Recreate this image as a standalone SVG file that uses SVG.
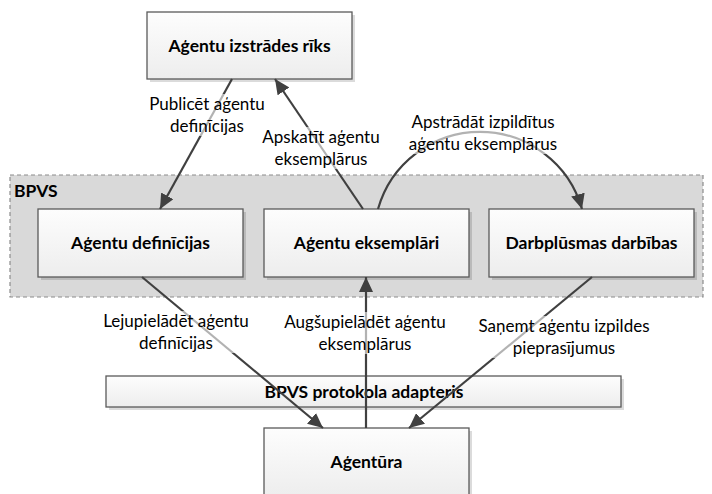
<svg xmlns="http://www.w3.org/2000/svg" width="712" height="494" viewBox="0 0 712 494">
<defs>
<linearGradient id="g" x1="0" y1="0" x2="0" y2="1">
<stop offset="0" stop-color="#fdfdfd"/>
<stop offset="1" stop-color="#ededed"/>
</linearGradient>
<marker id="ah" markerUnits="userSpaceOnUse" markerWidth="16" markerHeight="14" refX="15" refY="7" orient="auto">
<path d="M0,0 L15,7 L0,14 Z" fill="#404040"/>
</marker>
<style>
.box{fill:url(#g);stroke:#5a5a5a;stroke-width:1.3}
.sh{fill:#000;opacity:0.14}
.t{font-family:Lato,"Open Sans",sans-serif;font-size:17px;fill:#000;text-anchor:middle}
.b{font-weight:bold;font-size:17.5px}
.c{fill:none;stroke:#404040;stroke-width:2.2}
.lb{fill:#fff;opacity:0.6}
</style>
</defs>
<rect width="712" height="494" fill="#fff"/>
<g id="bpvs">
<rect x="10" y="175" width="693" height="122" fill="#d9d9d9" stroke="#8c8c8c" stroke-width="1.2" stroke-dasharray="4 3"/>
<text x="14" y="197" class="t b" style="text-anchor:start">BPVS</text>
</g>
<g id="adapter">
<rect x="109" y="379" width="515" height="31" class="sh"/>
<rect x="106" y="376" width="515" height="31" class="box"/>
<text x="364" y="398" class="t b">BPVS protokola adapteris</text>
</g>
<g id="izstrades">
<rect x="150" y="15" width="205" height="67" class="sh"/>
<rect x="147" y="12" width="205" height="67" class="box"/>
<text x="249.5" y="52" class="t b">Aģentu izstrādes rīks</text>
</g>
<g id="definicijas">
<rect x="41" y="212" width="205" height="68" class="sh"/>
<rect x="38" y="209" width="205" height="68" class="box"/>
<text x="140.5" y="249" class="t b">Aģentu definīcijas</text>
</g>
<g id="eksemplari">
<rect x="267" y="212" width="205" height="68" class="sh"/>
<rect x="264" y="209" width="205" height="68" class="box"/>
<text x="366.5" y="249" class="t b">Aģentu eksemplāri</text>
</g>
<g id="darbibas">
<rect x="492" y="212" width="205" height="68" class="sh"/>
<rect x="489" y="209" width="205" height="68" class="box"/>
<text x="591.5" y="249" class="t b">Darbplūsmas darbības</text>
</g>
<g id="agentura">
<rect x="267" y="431" width="205" height="70" class="sh"/>
<rect x="264" y="428" width="205" height="70" class="box"/>
<text x="366.5" y="468" class="t b">Aģentūra</text>
</g>
<g id="connectors">
<line x1="232" y1="79" x2="160" y2="209" class="c" marker-end="url(#ah)"/>
<line x1="363" y1="209" x2="275" y2="79" class="c" marker-end="url(#ah)"/>
<path d="M378,209 A106,106 0 0 1 582,209" class="c" marker-end="url(#ah)"/>
<line x1="142" y1="277" x2="323" y2="428" class="c" marker-end="url(#ah)"/>
<line x1="366" y1="428" x2="366" y2="277" class="c" marker-end="url(#ah)"/>
<line x1="592" y1="277" x2="409" y2="428" class="c" marker-end="url(#ah)"/>
</g>
<g id="labels">
<rect x="145" y="94" width="124" height="42" class="lb"/>
<text x="207" y="110" class="t">Publicēt aģentu</text>
<text x="207" y="132" class="t">definīcijas</text>
<rect x="258" y="127" width="126" height="42" class="lb"/>
<text x="321" y="143" class="t">Apskatīt aģentu</text>
<text x="321" y="165" class="t">eksemplārus</text>
<rect x="406" y="112" width="154" height="42" class="lb"/>
<text x="483" y="128" class="t">Apstrādāt izpildītus</text>
<text x="483" y="150" class="t">aģentu eksemplārus</text>
<rect x="98" y="311" width="156" height="42" class="lb"/>
<text x="176" y="327" class="t">Lejupielādēt aģentu</text>
<text x="176" y="349" class="t">definīcijas</text>
<rect x="279" y="312" width="172" height="42" class="lb"/>
<text x="365" y="328" class="t">Augšupielādēt aģentu</text>
<text x="365" y="350" class="t">eksemplārus</text>
<rect x="472" y="316" width="185" height="42" class="lb"/>
<text x="564" y="332" class="t">Saņemt aģentu izpildes</text>
<text x="564" y="354" class="t">pieprasījumus</text>
</g>
</svg>
